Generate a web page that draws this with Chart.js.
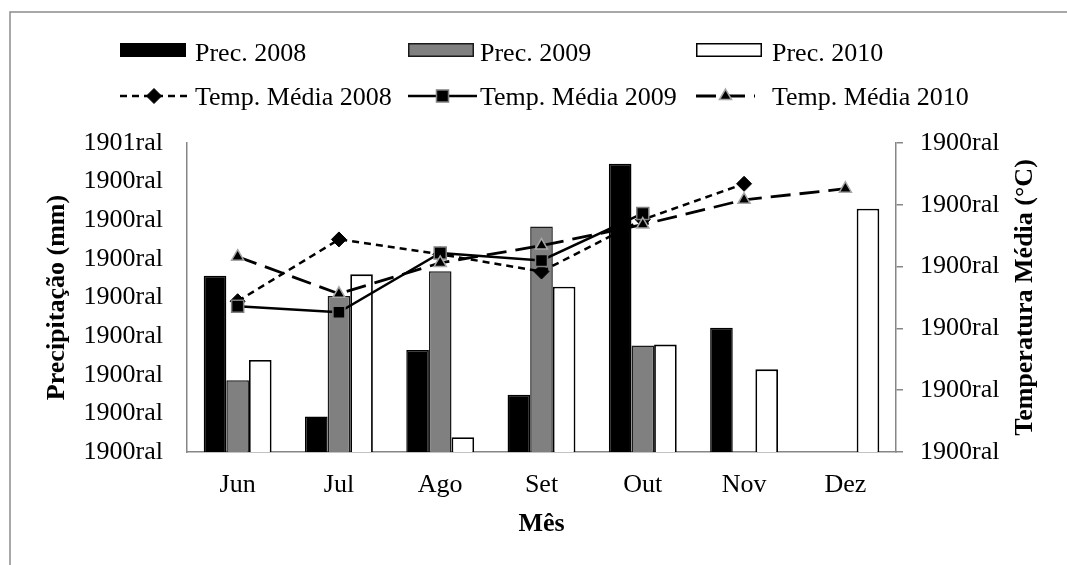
<!DOCTYPE html>
<html>
<head>
<meta charset="utf-8">
<script src="https://cdn.jsdelivr.net/npm/chart.js@4/dist/chart.umd.min.js"></script>
<style>
  html, body { margin: 0; padding: 0; background: #fff; overflow: hidden; }
</style>
</head>
<body>
<canvas id="chart" width="1067" height="565"></canvas>
<script>
const months = ['Jun', 'Jul', 'Ago', 'Set', 'Out', 'Nov', 'Dez'];
const prec2008 = [228, 46, 132, 74, 373, 161, null];
const prec2009 = [93, 202, 234, 292, 138, null, null];
const prec2010 = [119, 230, 19, 214, 139, 107, 315];
const temp2008 = [12.2, 17.2, 16.0, 14.6, 18.8, 21.7, null];
const temp2009 = [11.8, 11.3, 16.1, 15.5, 19.3, null, null];
const temp2010 = [15.8, 12.8, 15.3, 16.7, 18.4, 20.4, 21.3];
const precTicks = ['1900ral', '1900ral', '1900ral', '1900ral', '1900ral', '1900ral', '1900ral', '1900ral', '1901ral'];
const tempTicks = ['1900ral', '1900ral', '1900ral', '1900ral', '1900ral', '1900ral'];

const FONT = 'Liberation Serif, Times New Roman, serif';
const AXIS_GREY = '#868686';

Chart.defaults.font.family = FONT;
Chart.defaults.font.size = 26;
Chart.defaults.color = '#000';

// legend rows drawn by hand: three columns, bars on top, lines below
const legendPlugin = {
    id: 'legendRows',
    beforeDraw(chart) {
        const ctx = chart.ctx;
        ctx.save();
        ctx.fillStyle = '#fff';
        ctx.fillRect(0, 0, chart.width, chart.height);
        ctx.strokeStyle = '#8c8c8c';
        ctx.lineWidth = 1.5;
        ctx.strokeRect(10, 12, 1200, 700);
        ctx.restore();
    },
    afterDraw(chart) {
        const ctx = chart.ctx;
        const cols = [120, 408, 696];
        const textX = [195, 480, 772];
        const ds = chart.data.datasets;
        ctx.save();
        ctx.font = '26px ' + FONT;
        ctx.textBaseline = 'alphabetic';
        ctx.fillStyle = '#000';
        // bars
        for (let i = 0; i < 3; i++) {
            const d = ds[i];
            ctx.fillStyle = d.backgroundColor;
            ctx.fillRect(cols[i], 43, 66, 14);
            ctx.strokeStyle = d.borderColor;
            ctx.lineWidth = 1.5;
            ctx.strokeRect(cols[i] + 0.75, 43.75, 64.5, 12.5);
            ctx.fillStyle = '#000';
            ctx.fillText(d.label, textX[i], 61);
        }
        // lines
        const lineW = [68, 69, 59];
        for (let i = 0; i < 3; i++) {
            const d = ds[3 + i];
            const y = 96;
            ctx.strokeStyle = d.borderColor;
            ctx.lineWidth = d.borderWidth;
            ctx.setLineDash(d.borderDash || []);
            ctx.beginPath();
            ctx.moveTo(cols[i], y);
            ctx.lineTo(cols[i] + lineW[i], y);
            ctx.stroke();
            ctx.setLineDash([]);
            ctx.fillStyle = d.pointBackgroundColor;
            ctx.strokeStyle = d.pointBorderColor;
            ctx.lineWidth = d.pointBorderWidth;
            Chart.helpers.drawPoint(ctx, {
                pointStyle: d.pointStyle,
                radius: d.pointRadius,
                rotation: 0,
                borderWidth: d.pointBorderWidth
            }, cols[i] + lineW[i] / 2, y);
            ctx.fillStyle = '#000';
            ctx.fillText(d.label, textX[i], 105);
        }
        // right axis title, reading bottom to top
        const a = chart.chartArea;
        ctx.font = 'bold 26px ' + FONT;
        ctx.textAlign = 'center';
        ctx.textBaseline = 'middle';
        ctx.translate(1025, (a.top + a.bottom) / 2);
        ctx.rotate(-Math.PI / 2);
        ctx.fillText('Temperatura Média (°C)', 0, 0);
        ctx.restore();
    }
};

new Chart(document.getElementById('chart'), {
    type: 'bar',
    data: {
        labels: months,
        datasets: [
            { label: 'Prec. 2008', data: prec2008, backgroundColor: '#000000', borderColor: '#000000', borderWidth: 1.5, yAxisID: 'y', order: 3 },
            { label: 'Prec. 2009', data: prec2009, backgroundColor: '#808080', borderColor: '#1a1a1a', borderWidth: 1.5, yAxisID: 'y', order: 4 },
            { label: 'Prec. 2010', data: prec2010, backgroundColor: '#ffffff', borderColor: '#000000', borderWidth: 1.8, yAxisID: 'y', order: 5 },
            {
                type: 'line', label: 'Temp. Média 2008', data: temp2008, yAxisID: 'y1', order: 2,
                borderColor: '#000', borderWidth: 2.5, borderDash: [7, 5], fill: false, tension: 0,
                pointStyle: 'rectRot', pointRadius: 7.5, pointBackgroundColor: '#000', pointBorderColor: '#000', pointBorderWidth: 1
            },
            {
                type: 'line', label: 'Temp. Média 2009', data: temp2009, yAxisID: 'y1', order: 1,
                borderColor: '#000', borderWidth: 2.5, fill: false, tension: 0,
                pointStyle: 'rect', pointRadius: 8.5, pointBackgroundColor: '#000', pointBorderColor: '#7f7f7f', pointBorderWidth: 1.5
            },
            {
                type: 'line', label: 'Temp. Média 2010', data: temp2010, yAxisID: 'y1', order: 0,
                borderColor: '#000', borderWidth: 2.8, borderDash: [20, 9], fill: false, tension: 0,
                pointStyle: 'triangle', pointRadius: 7, pointBackgroundColor: '#000', pointBorderColor: '#a6a6a6', pointBorderWidth: 1.5
            }
        ]
    },
    options: {
        responsive: false,
        animation: false,
        events: [],
        layout: { padding: { top: 143, left: 0, right: 0, bottom: 0 } },
        datasets: {
            bar: { barPercentage: 1, categoryPercentage: 0.67 }
        },
        plugins: {
            legend: { display: false },
            tooltip: { enabled: false }
        },
        scales: {
            x: {
                grid: { display: false, drawTicks: false },
                border: { display: true, color: AXIS_GREY, width: 1.5 },
                ticks: { padding: 18, maxRotation: 0 },
                title: { display: true, text: 'Mês', font: { weight: 'bold', size: 26 }, padding: { top: 0, bottom: 25 } },
                afterFit(scale) { scale.height = 113; }
            },
            y: {
                position: 'left',
                min: 0, max: 400,
                grid: { display: false, drawTicks: false },
                border: { display: true, color: AXIS_GREY, width: 1.5 },
                ticks: {
                    stepSize: 50, padding: 24,
                    callback: (value, index) => precTicks[index]
                },
                title: { display: true, text: 'Precipitação (mm)', font: { weight: 'bold', size: 26 }, padding: { top: 42, bottom: 0 } },
                afterFit(scale) { scale.width = 187; }
            },
            y1: {
                position: 'right',
                min: 0, max: 25,
                grid: { display: true, drawOnChartArea: false, drawTicks: true, tickLength: 7, color: AXIS_GREY, lineWidth: 1.5 },
                border: { display: true, color: AXIS_GREY, width: 1.5 },
                ticks: {
                    stepSize: 5, padding: 17,
                    callback: (value, index) => tempTicks[index]
                },
                afterFit(scale) { scale.width = 171; }
            }
        }
    },
    plugins: [legendPlugin]
});
</script>
</body>
</html>
